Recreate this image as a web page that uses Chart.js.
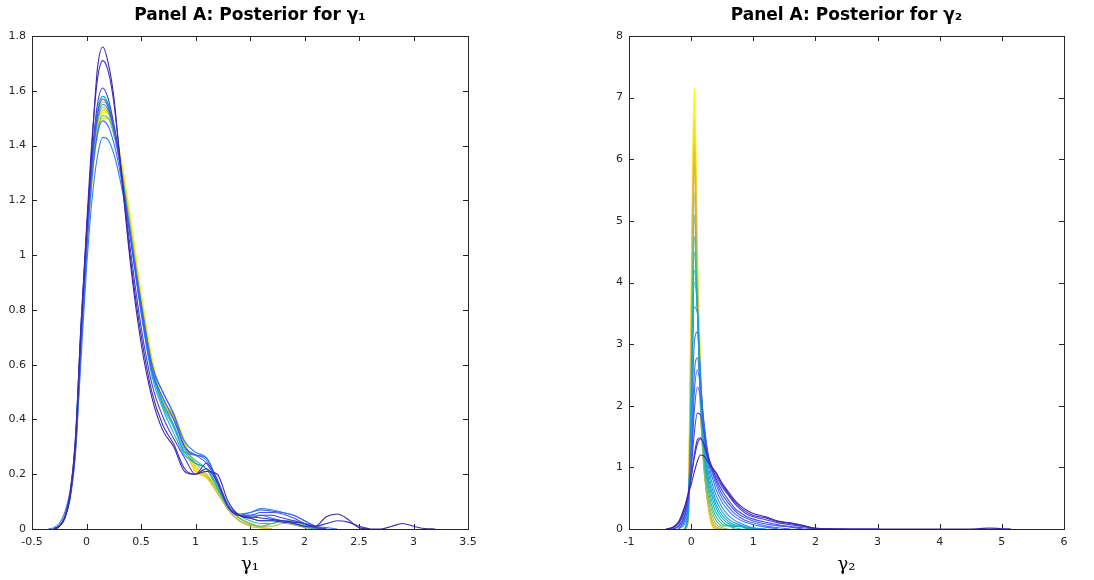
<!DOCTYPE html>
<html>
<head>
<meta charset="utf-8">
<script src="https://cdn.jsdelivr.net/npm/chart.js@4.4.1/dist/chart.umd.min.js"></script>
<style>
  body { margin: 0; background: #fff; }
  .panel { position: absolute; top: 0; width: 547px; height: 580px; }
</style>
</head>
<body>
<div class="panel" style="left:0"><canvas id="chartGamma1" width="547" height="580"></canvas></div>
<div class="panel" style="left:547px"><canvas id="chartGamma2" width="547" height="580"></canvas></div>
<script>
// grid of x values for panel 1 (gamma_1)
const gamma1X = [-0.35, -0.3, -0.25, -0.2, -0.15, -0.1, -0.05, 0, 0.05, 0.1, 0.15, 0.2, 0.25, 0.3,
    0.4, 0.5, 0.6, 0.7, 0.8, 0.9, 1.0, 1.1, 1.2, 1.3, 1.4, 1.5, 1.6, 1.7, 1.8, 1.9, 2.0,
    2.1, 2.2, 2.3, 2.4, 2.5, 2.6, 2.7, 2.8, 2.9, 3.0, 3.1, 3.2];

// posterior densities for gamma_1, one row per draw
const gamma1Curves = [
    [null, 0, 0.01, 0.04, 0.12, 0.32, 0.72, 1.08, 1.4, 1.68, 1.76, 1.7, 1.58, 1.38, 0.98, 0.68, 0.48, 0.36, 0.3, 0.21, 0.2, 0.21, 0.2, 0.1, 0.05, 0.04, 0.03, 0.03, 0.025, 0.02, 0.01, 0.01, 0.045, 0.055, 0.035, 0.005, 0, 0, 0.01, 0.02, 0.01, 0.002, 0],
    [null, 0, 0.01, 0.04, 0.13, 0.34, 0.75, 1.1, 1.42, 1.64, 1.71, 1.67, 1.56, 1.38, 1.0, 0.71, 0.5, 0.38, 0.31, 0.22, 0.2, 0.22, 0.17, 0.08, 0.05, 0.045, 0.04, 0.035, 0.03, 0.025, 0.02, 0.01, 0.02, 0.03, 0.025, 0.01, 0],
    [null, 0, 0.01, 0.04, 0.13, 0.34, 0.75, 1.08, 1.36, 1.55, 1.61, 1.57, 1.48, 1.36, 1.03, 0.74, 0.53, 0.41, 0.33, 0.26, 0.2, 0.24, 0.18, 0.08, 0.05, 0.04, 0.05, 0.05, 0.04, 0.03, 0.02, 0.005, 0],
    [null, 0, 0.01, 0.04, 0.12, 0.32, 0.72, 1.05, 1.33, 1.51, 1.57, 1.54, 1.46, 1.35, 1.07, 0.8, 0.58, 0.48, 0.4, 0.3, 0.27, 0.24, 0.17, 0.08, 0.05, 0.05, 0.06, 0.06, 0.055, 0.04, 0.02, 0.005, 0],
    [null, 0, 0.01, 0.04, 0.11, 0.28, 0.66, 1.0, 1.28, 1.44, 1.49, 1.47, 1.41, 1.32, 1.08, 0.82, 0.6, 0.5, 0.42, 0.3, 0.27, 0.26, 0.17, 0.08, 0.05, 0.06, 0.07, 0.065, 0.06, 0.05, 0.03, 0.01, 0],
    [0, 0.005, 0.02, 0.06, 0.14, 0.3, 0.62, 0.95, 1.2, 1.36, 1.43, 1.42, 1.37, 1.29, 1.08, 0.83, 0.6, 0.5, 0.42, 0.32, 0.28, 0.26, 0.18, 0.09, 0.055, 0.06, 0.075, 0.07, 0.06, 0.05, 0.03, 0.01, 0.005, 0],
    [null, 0, 0.01, 0.04, 0.12, 0.3, 0.7, 1.04, 1.32, 1.49, 1.55, 1.53, 1.46, 1.35, 1.08, 0.8, 0.57, 0.46, 0.38, 0.28, 0.27, 0.25, 0.17, 0.08, 0.05, 0.05, 0.05, 0.04, 0.03, 0.02, 0.01, 0.005, 0],
    [null, 0, 0.01, 0.04, 0.12, 0.31, 0.72, 1.06, 1.35, 1.52, 1.58, 1.55, 1.47, 1.36, 1.08, 0.79, 0.56, 0.44, 0.35, 0.27, 0.24, 0.22, 0.16, 0.08, 0.05, 0.04, 0.03, 0.03, 0.03, 0.02, 0.01, 0],
    [null, 0, 0.01, 0.04, 0.12, 0.31, 0.72, 1.06, 1.35, 1.53, 1.58, 1.55, 1.47, 1.36, 1.08, 0.8, 0.58, 0.45, 0.37, 0.28, 0.24, 0.22, 0.15, 0.08, 0.05, 0.03, 0.02, 0.02, 0.03, 0.03, 0.015, 0],
    [null, 0, 0.01, 0.04, 0.12, 0.3, 0.7, 1.02, 1.29, 1.45, 1.51, 1.5, 1.44, 1.35, 1.1, 0.82, 0.6, 0.46, 0.38, 0.29, 0.25, 0.22, 0.15, 0.08, 0.04, 0.02, 0.01, 0.02, 0.03, 0.025, 0.01, 0],
    [null, 0, 0.01, 0.04, 0.12, 0.3, 0.7, 1.03, 1.31, 1.48, 1.54, 1.52, 1.45, 1.36, 1.1, 0.82, 0.6, 0.46, 0.4, 0.3, 0.24, 0.2, 0.14, 0.07, 0.03, 0.015, 0.01, 0.01, 0.02, 0.015, 0.005, 0],
    [null, 0, 0.01, 0.04, 0.12, 0.3, 0.7, 1.04, 1.33, 1.5, 1.56, 1.54, 1.47, 1.37, 1.11, 0.83, 0.6, 0.47, 0.41, 0.31, 0.23, 0.19, 0.13, 0.07, 0.03, 0.01, 0.005, 0],
    [null, 0, 0.01, 0.05, 0.13, 0.31, 0.71, 1.03, 1.3, 1.47, 1.53, 1.52, 1.46, 1.37, 1.12, 0.84, 0.61, 0.46, 0.4, 0.3, 0.21, 0.19, 0.14, 0.08, 0.04, 0.02, 0.005, 0],
    [null, 0, 0.01, 0.05, 0.13, 0.31, 0.71, 1.02, 1.29, 1.46, 1.52, 1.52, 1.47, 1.38, 1.13, 0.85, 0.62, 0.46, 0.41, 0.31, 0.22, 0.2, 0.15, 0.08, 0.04, 0.02, 0.005, 0],
    [null, 0, 0.01, 0.05, 0.13, 0.3, 0.69, 1.0, 1.27, 1.44, 1.5, 1.5, 1.46, 1.38, 1.14, 0.86, 0.62, 0.47, 0.42, 0.32, 0.22, 0.19, 0.14, 0.08, 0.04, 0.02, 0.005, 0]
];
const gamma1Colors = ['#3e26a8', '#4030c0', '#4a3fd8', '#4652f0', '#3f6af8', '#2f84f5', '#1a9ee6',
    '#10b4ca', '#2cbba8', '#50bf8c', '#a9bd5c', '#e3b93e', '#f7d52a', '#f9fb0e', '#f2ee1c'];

// grid of x values for panel 2 (gamma_2)
const gamma2X = [-0.4, -0.3, -0.2, -0.1, -0.05, 0, 0.05, 0.1, 0.15, 0.2, 0.25, 0.3, 0.35, 0.4,
    0.5, 0.6, 0.7, 0.8, 0.9, 1.0, 1.2, 1.4, 1.6, 1.8, 2.0, 2.3, 2.6, 3.0, 4.0, 4.6, 4.8, 5.0, 5.15];

const gamma2Curves = [
    [0, 0.03, 0.12, 0.38, 0.55, 0.72, 0.92, 1.1, 1.2, 1.19, 1.12, 1.04, 0.98, 0.92, 0.74, 0.6, 0.47, 0.37, 0.3, 0.25, 0.2, 0.13, 0.1, 0.06, 0.01, 0.005, 0, 0, 0, 0.005, 0.015, 0.005, 0],
    [0, 0.02, 0.1, 0.35, 0.58, 0.85, 1.15, 1.38, 1.46, 1.4, 1.25, 1.1, 0.98, 0.9, 0.72, 0.57, 0.44, 0.34, 0.27, 0.22, 0.18, 0.12, 0.09, 0.05, 0.01, 0, 0, 0],
    [0, 0.02, 0.09, 0.3, 0.52, 0.82, 1.2, 1.45, 1.48, 1.38, 1.2, 1.05, 0.94, 0.86, 0.68, 0.55, 0.41, 0.31, 0.24, 0.2, 0.15, 0.1, 0.07, 0.04, 0.01, 0],
    [null, 0, 0.05, 0.25, 0.5, 0.95, 1.55, 1.88, 1.85, 1.6, 1.3, 1.08, 0.95, 0.82, 0.62, 0.47, 0.34, 0.26, 0.2, 0.16, 0.11, 0.07, 0.04, 0.02, 0],
    [null, 0, 0.04, 0.22, 0.5, 1.05, 1.9, 2.3, 2.15, 1.75, 1.35, 1.08, 0.92, 0.78, 0.56, 0.42, 0.3, 0.22, 0.17, 0.13, 0.08, 0.05, 0.03, 0],
    [null, null, 0, 0.18, 0.45, 1.1, 2.2, 2.58, 2.3, 1.8, 1.35, 1.05, 0.88, 0.72, 0.5, 0.36, 0.25, 0.18, 0.13, 0.1, 0.05, 0.02, 0],
    [null, null, 0, 0.15, 0.4, 1.15, 2.5, 2.78, 2.3, 1.7, 1.25, 0.98, 0.8, 0.64, 0.43, 0.3, 0.2, 0.14, 0.1, 0.07, 0.03, 0],
    [null, null, 0, 0.1, 0.35, 1.4, 3.0, 3.2, 2.5, 1.7, 1.2, 0.9, 0.7, 0.55, 0.35, 0.22, 0.14, 0.09, 0.05, 0.02, 0],
    [null, null, null, 0, 0.3, 1.6, 3.6, 3.5, 2.5, 1.6, 1.1, 0.8, 0.62, 0.47, 0.28, 0.16, 0.1, 0.06, 0.03, 0.01, 0],
    [null, null, null, 0, 0.28, 1.8, 4.0, 3.6, 2.4, 1.5, 1.0, 0.72, 0.55, 0.4, 0.22, 0.12, 0.07, 0.04, 0.01, 0],
    [null, null, null, 0, 0.25, 1.9, 4.2, 3.6, 2.3, 1.4, 0.92, 0.66, 0.48, 0.34, 0.17, 0.09, 0.05, 0.05, 0.01, 0],
    [null, null, null, 0, 0.22, 2.0, 4.5, 3.6, 2.2, 1.3, 0.85, 0.58, 0.4, 0.27, 0.12, 0.06, 0.04, 0.05, 0],
    [null, null, null, 0, 0.2, 2.1, 4.75, 3.6, 2.1, 1.25, 0.78, 0.5, 0.32, 0.2, 0.08, 0.05, 0.02, 0],
    [null, null, null, 0, 0.18, 2.3, 5.1, 3.6, 2.0, 1.15, 0.68, 0.42, 0.25, 0.14, 0.05, 0.05, 0],
    [null, null, null, 0, 0.16, 2.5, 5.45, 3.6, 1.95, 1.05, 0.6, 0.34, 0.18, 0.08, 0.02, 0],
    [null, null, null, 0, 0.15, 2.7, 5.95, 3.7, 1.95, 1.05, 0.55, 0.27, 0.12, 0.04, 0],
    [null, null, null, 0, 0.14, 2.9, 6.25, 3.9, 2.2, 1.15, 0.58, 0.24, 0.07, 0.01, 0],
    [null, null, null, 0, 0.13, 3.2, 6.65, 4.1, 2.4, 1.25, 0.65, 0.22, 0.04, 0],
    [null, null, null, 0, 0.12, 3.5, 7.15, 4.3, 2.6, 1.4, 0.75, 0.25, 0.03, 0]
];
const gamma2Colors = ['#3e26a8', '#4230c3', '#463cd6', '#4749e5', '#4658f1', '#4169f9', '#367cf5',
    '#2b8cec', '#209ce2', '#13aad6', '#0bb4c6', '#1fbab0', '#39bd99', '#62c080', '#96bf67',
    '#c5ba52', '#ecb942', '#fbd530', '#f9fb0e'];

Chart.defaults.font.family = "'DejaVu Sans', sans-serif";
Chart.defaults.font.size = 11;
Chart.defaults.color = '#262626';

// MATLAB style box with inward ticks on all four sides
const boxTicks = {
    id: 'boxTicks',
    beforeDatasetsDraw(chart) {
        const { ctx, chartArea: a, scales: { x, y } } = chart;
        ctx.save();
        ctx.strokeStyle = '#262626';
        ctx.lineWidth = 1;
        ctx.beginPath();
        x.ticks.forEach(t => {
            const px = Math.round(x.getPixelForValue(t.value)) + 0.5;
            ctx.moveTo(px, a.bottom); ctx.lineTo(px, a.bottom - 5);
            ctx.moveTo(px, a.top); ctx.lineTo(px, a.top + 5);
        });
        y.ticks.forEach(t => {
            const py = Math.round(y.getPixelForValue(t.value)) + 0.5;
            ctx.moveTo(a.left, py); ctx.lineTo(a.left + 5, py);
            ctx.moveTo(a.right, py); ctx.lineTo(a.right - 5, py);
        });
        ctx.stroke();
        ctx.strokeRect(a.left + 0.5, a.top + 0.5, a.right - a.left, a.bottom - a.top);
        ctx.restore();
    }
};

function toPoints(xs, ys) {
    const pts = [];
    ys.forEach((v, i) => { if (v !== null) pts.push({ x: xs[i], y: v }); });
    return pts;
}

function getDensityChart(id, xs, curves, colors, xRange, yRange, title, xLabel, padLeft, padRight) {
    const ctx = document.getElementById(id).getContext('2d');
    const n = curves.length;
    return new Chart(ctx, {
        type: 'line',
        data: {
            datasets: curves.map((c, i) => ({
                data: toPoints(xs, c),
                borderColor: colors[i],
                borderWidth: i >= n - 3 ? 1.8 : 1.1,
                pointRadius: 0,
                fill: false,
                cubicInterpolationMode: 'monotone'
            }))
        },
        plugins: [boxTicks],
        options: {
            responsive: false,
            animation: false,
            layout: { padding: { left: padLeft, right: padRight, top: 0, bottom: 0 } },
            plugins: {
                legend: { display: false },
                tooltip: { enabled: false },
                title: {
                    display: true,
                    text: title,
                    fullSize: false,
                    color: '#000',
                    font: { size: 17, weight: 'bold' },
                    padding: { top: 5, bottom: 10.6 }
                }
            },
            scales: {
                x: {
                    type: 'linear',
                    min: xRange[0], max: xRange[1],
                    ticks: { stepSize: xRange[2], padding: 7, maxRotation: 0,
                        callback: v => String(+v.toFixed(1)) },
                    grid: { display: false, drawTicks: false },
                    border: { display: false },
                    title: { display: true, text: xLabel, color: '#000',
                        font: { family: "'DejaVu Serif', serif", size: 18 },
                        padding: { top: 0, bottom: 4 } },
                    afterFit: s => { s.height = 51; }
                },
                y: {
                    min: yRange[0], max: yRange[1],
                    ticks: { stepSize: yRange[2], padding: 6,
                        callback: v => String(+v.toFixed(1)) },
                    grid: { display: false, drawTicks: false },
                    border: { display: false },
                    afterFit: s => { s.width = 32; }
                }
            }
        }
    });
}

getDensityChart('chartGamma1', gamma1X, gamma1Curves, gamma1Colors,
    [-0.5, 3.5, 0.5], [0, 1.8, 0.2], 'Panel A: Posterior for γ₁', 'γ₁', 0, 79);
getDensityChart('chartGamma2', gamma2X, gamma2Curves, gamma2Colors,
    [-1, 6, 1], [0, 8, 1], 'Panel A: Posterior for γ₂', 'γ₂', 50, 30);
</script>
</body>
</html>
